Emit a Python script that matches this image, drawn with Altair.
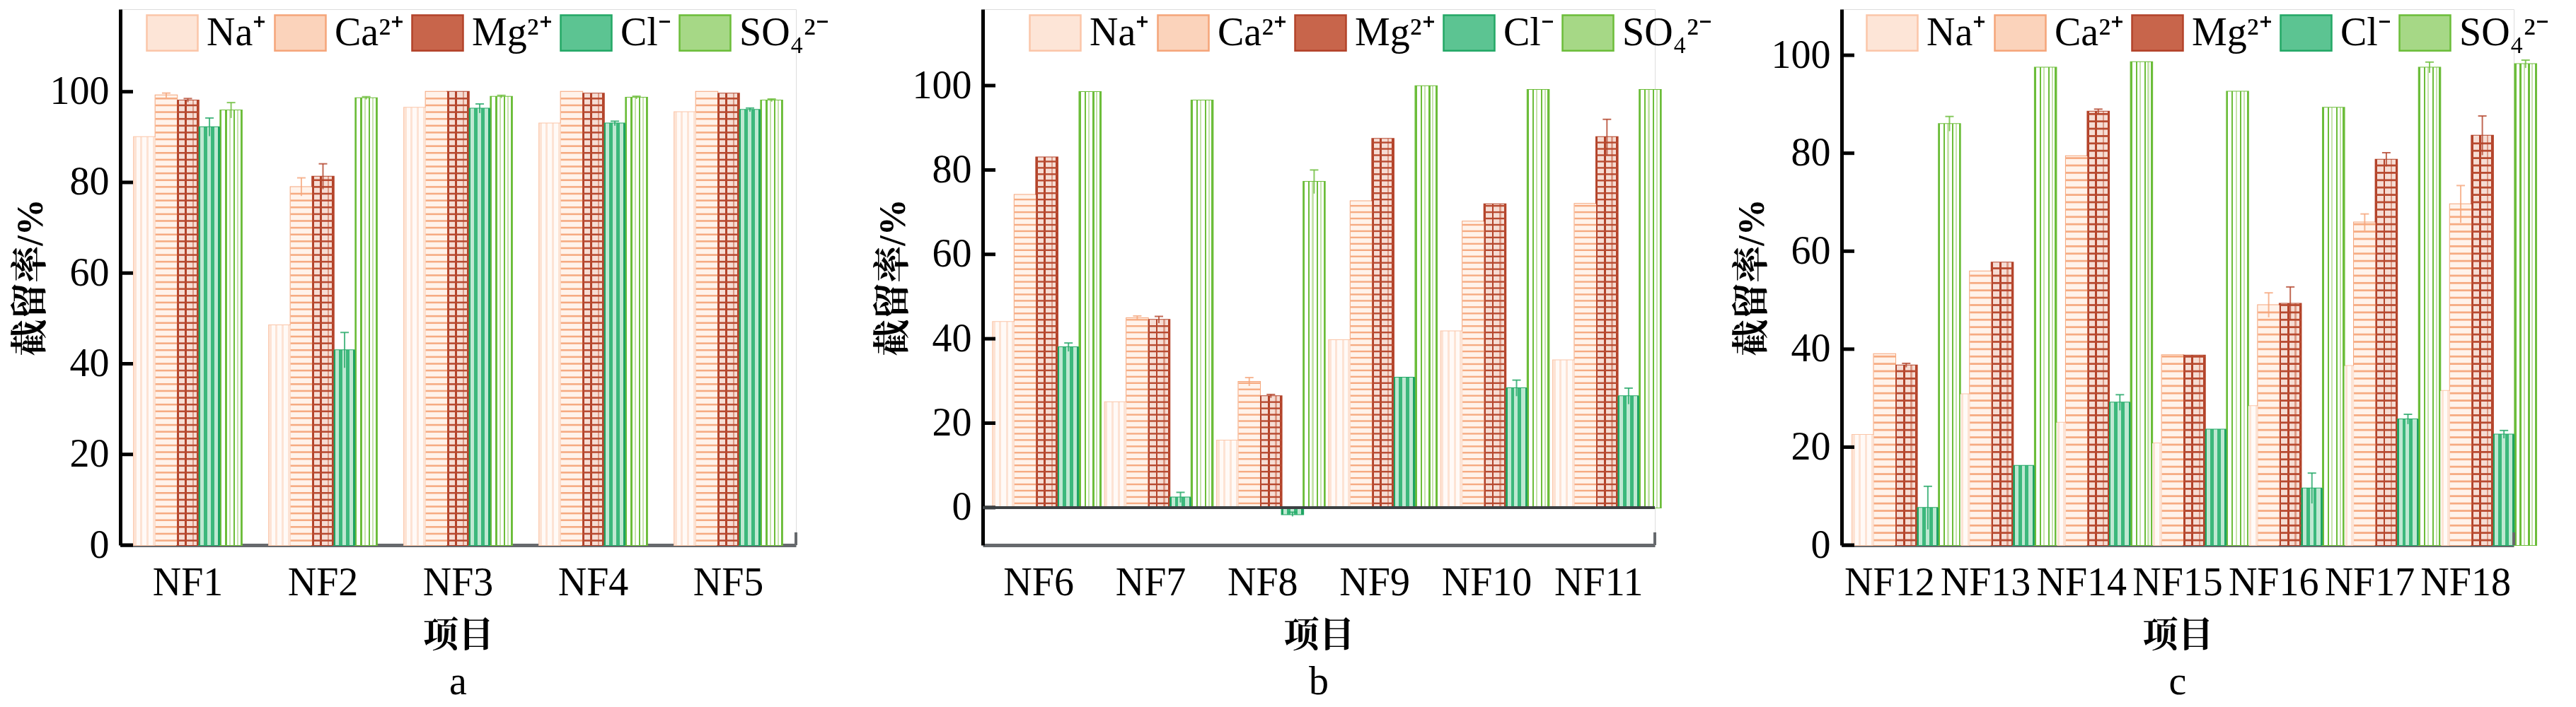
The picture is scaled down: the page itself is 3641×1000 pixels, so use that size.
import altair as alt
import pandas as pd

FONT = "Liberation Serif, Noto Serif CJK SC, Noto Sans CJK SC"

series = ["Na⁺", "Ca²⁺", "Mg²⁺", "Cl⁻", "SO₄²⁻"]

# ---- panel a ----
cats_a = ["NF1", "NF2", "NF3", "NF4", "NF5"]
na_a = [90.0, 48.5, 96.5, 93.0, 95.5]
ca_a = [99.2, 79.0, 100.0, 100.0, 100.0]
mg_a = [98.1, 81.3, 100.0, 99.6, 99.6]
cl_a = [92.2, 43.0, 96.3, 93.0, 96.0]
so4_a = [95.9, 98.6, 98.9, 98.7, 98.1]
na_a_err = [0, 0, 0, 0, 0]
ca_a_err = [0.5, 2.0, 0, 0, 0]
mg_a_err = [0.4, 2.8, 0, 0, 0]
cl_a_err = [2.0, 3.9, 1.0, 0.5, 0.4]
so4_a_err = [1.7, 0.3, 0.3, 0.3, 0.3]

# ---- panel b ----
cats_b = ["NF6", "NF7", "NF8", "NF9", "NF10", "NF11"]
na_b = [44.0, 25.0, 15.9, 39.7, 41.8, 34.9]
ca_b = [74.1, 44.9, 29.8, 72.6, 67.8, 72.0]
mg_b = [83.0, 44.5, 26.4, 87.4, 71.9, 87.8]
cl_b = [38.0, 2.4, -1.6, 30.8, 28.3, 26.4]
so4_b = [98.5, 96.5, 77.2, 99.9, 99.0, 99.0]
na_b_err = [0, 0, 0, 0, 0, 0]
ca_b_err = [0, 0.5, 1.0, 0, 0, 0]
mg_b_err = [0, 0.8, 0.4, 0, 0, 4.2]
cl_b_err = [1.0, 1.2, 0.5, 0, 1.9, 1.9]
so4_b_err = [0, 0, 2.8, 0, 0, 0]

# ---- panel c ----
cats_c = ["NF12", "NF13", "NF14", "NF15", "NF16", "NF17", "NF18"]
na_c = [22.5, 30.8, 25.0, 20.8, 28.4, 36.6, 31.5]
ca_c = [39.0, 55.9, 79.4, 38.8, 49.0, 65.9, 69.6]
mg_c = [36.7, 57.7, 88.5, 38.7, 49.3, 78.7, 83.6]
cl_c = [7.6, 16.2, 29.1, 23.6, 11.6, 25.7, 22.6]
so4_c = [86.0, 97.5, 98.6, 92.6, 89.3, 97.5, 98.2]
na_c_err = [0, 0, 0, 0, 0, 0, 0]
ca_c_err = [0, 0, 0, 0, 2.5, 1.7, 3.8]
mg_c_err = [0.4, 0, 0.5, 0, 3.4, 1.4, 4.0]
cl_c_err = [4.4, 0, 1.6, 0, 3.1, 1.0, 0.8]
so4_c_err = [1.5, 0, 0, 0, 0, 1.1, 0.8]

y_ticks = [0, 20, 40, 60, 80, 100]

# colours
legend_fill = ["#fde5d7", "#fbd3bb", "#c8654b", "#5cc492", "#a6d886"]
stroke_cols = ["#fbc6a9", "#f5a57a", "#b3432a", "#23a866", "#6cbd3a"]


def grad(stops):
    s = []
    for a, b, c in stops:
        s.append(alt.GradientStop(offset=a, color=c))
        s.append(alt.GradientStop(offset=b, color=c))
    return alt.LinearGradient(gradient="linear", x1=0, y1=0, x2=1, y2=0, stops=s)


G, LG, W = "#6cbd3a", "#c6e4ad", "#ffffff"
so4_grad = grad([(0, 0.07, G), (0.07, 0.23, W), (0.23, 0.30, G), (0.30, 0.40, W),
                 (0.40, 0.47, LG), (0.47, 0.62, W), (0.62, 0.69, G), (0.69, 0.78, W),
                 (0.78, 0.85, LG), (0.85, 0.93, W), (0.93, 1.0, G)])
R, LR, P = "#b3432a", "#dd9a86", "#f6ddd4"
mg_grad = grad([(0, 0.08, R), (0.08, 0.36, P), (0.36, 0.45, R), (0.45, 0.70, P),
                (0.70, 0.78, LR), (0.78, 0.92, P), (0.92, 1.0, R)])
CG, CL, CM = "#1fa463", "#bfe8d2", "#3cb87c"
cl_grad = grad([(0, 0.08, CG), (0.08, 0.24, CL), (0.24, 0.40, CM), (0.40, 0.56, CL),
                (0.56, 0.72, CM), (0.72, 0.90, CL), (0.90, 1.0, CG)])
NA_P, NA_W = "#fde3d4", "#fffaf7"
na_grad = grad([(0, 0.12, NA_P), (0.12, 0.3, NA_W), (0.3, 0.4, NA_P), (0.4, 0.6, NA_W),
                (0.6, 0.7, NA_P), (0.7, 0.88, NA_W), (0.88, 1.0, NA_P)])

X_AXIS = alt.Axis(
    title="项目", labelAngle=0, ticks=False, domainColor="#66696d", domainWidth=5,
    labelFont=FONT, labelFontSize=56, labelColor="black", labelPadding=26,
    titleFont=FONT, titleFontSize=50, titleFontWeight="bold", titleColor="black",
    titlePadding=22, grid=False)
Y_AXIS = alt.Axis(
    title="截留率/%", values=y_ticks, ticks=False, grid=False, domainColor="black",
    domainWidth=5, labelFont=FONT, labelFontSize=56, labelColor="black",
    labelPadding=16, titleFont=FONT, titleFontSize=52, titleFontWeight="bold",
    titleColor="black", titlePadding=0)


def make_df(cats, vals, errs):
    rows = []
    for s, v, e in zip(series, vals, errs):
        for c, vv, ee in zip(cats, v, e):
            rows.append({"cat": c, "series": s, "value": vv, "err": ee})
    return pd.DataFrame(rows)


def panel(cats, vals, errs, ydom, width, height, letter, leg_x, leg_y, pad_inner, zero_line):
    df = make_df(cats, vals, errs)
    xs = alt.Scale(domain=cats, paddingInner=pad_inner, paddingOuter=pad_inner / 2)
    xo = alt.XOffset("series:N", scale=alt.Scale(domain=series, paddingInner=0, paddingOuter=0))
    ys = alt.Scale(domain=ydom, nice=False, zero=False)
    X = alt.X("cat:N", scale=xs, sort=cats, axis=X_AXIS)

    def Y(f):
        return alt.Y(f, scale=ys, axis=Y_AXIS)

    base = alt.Chart(df)
    leg = alt.Legend(
        title=None, orient="none", legendX=leg_x, legendY=leg_y, direction="horizontal",
        symbolType="M-1,-0.7H1V0.7H-1Z", symbolSize=5184, symbolStrokeWidth=2.5,
        labelFont=FONT, labelFontSize=56, labelColor="black", labelOffset=11,
        columnPadding=6, labelLimit=300,
    )
    bars = base.mark_bar(strokeWidth=2).encode(
        x=X, xOffset=xo, y=Y("value:Q"),
        fill=alt.Fill("series:N", scale=alt.Scale(domain=series, range=legend_fill), legend=leg),
        stroke=alt.Stroke("series:N", scale=alt.Scale(domain=series, range=stroke_cols), legend=leg),
    )
    layers = [bars]

    def pat(sname, fill):
        return base.transform_filter(alt.datum.series == sname).mark_bar(
            fill=fill, strokeWidth=0).encode(x=X, xOffset=xo, y=Y("value:Q"))

    layers.append(pat(series[0], na_grad))
    layers.append(pat(series[1], "#fff3eb"))
    layers.append(pat(series[2], mg_grad))
    layers.append(pat(series[3], cl_grad))
    layers.append(pat(series[4], so4_grad))

    def stripes(sname, color):
        return base.transform_filter(alt.datum.series == sname).transform_calculate(
            s="sequence(0.8, datum.value - 0.3, 1.5)").transform_flatten(["s"]).transform_calculate(
            s2="datum.s + 0.4").mark_bar(color=color, strokeWidth=0).encode(
            x=X, xOffset=xo, y=Y("s:Q"), y2="s2:Q")

    layers.append(stripes(series[1], "#f6ab82"))
    layers.append(stripes(series[2], "#b84a30"))

    eb = base.transform_filter(alt.datum.err > 0).transform_calculate(
        lo="datum.value - datum.err", hi="datum.value + datum.err")
    layers.append(eb.mark_rule(strokeWidth=2, opacity=0.8).encode(
        x=X, xOffset=xo, y=Y("lo:Q"), y2="hi:Q",
        stroke=alt.Stroke("series:N", scale=alt.Scale(domain=series, range=stroke_cols), legend=None)))
    layers.append(eb.mark_tick(size=12, thickness=2, opacity=0.8).encode(
        x=X, xOffset=xo, y=Y("hi:Q"),
        color=alt.Color("series:N", scale=alt.Scale(domain=series, range=stroke_cols), legend=None)))

    tdf = pd.DataFrame({"t": y_ticks})
    layers.append(alt.Chart(tdf).mark_rule(color="black", strokeWidth=5).encode(
        y=Y("t:Q"), x=alt.value(0), x2=alt.value(18)))
    if zero_line:
        layers.append(alt.Chart(pd.DataFrame({"z": [0]})).mark_rule(color="#3c4043", strokeWidth=4).encode(
            y=Y("z:Q"), x=alt.value(0), x2=alt.value(width)))
    layers.append(alt.Chart(pd.DataFrame({"z": [0]})).mark_rule(color="#66696d", strokeWidth=4).encode(
        x=alt.value(width), y=alt.value(height - 18), y2=alt.value(height)))

    return alt.layer(*layers).properties(
        width=width, height=height,
        title=alt.TitleParams(letter, orient="bottom", font=FONT, fontSize=56,
                              fontWeight="normal", color="black", offset=14),
    )


pa = panel(cats_a, [na_a, ca_a, mg_a, cl_a, so4_a],
           [na_a_err, ca_a_err, mg_a_err, cl_a_err, so4_a_err],
           [0, 118.2], 955, 758, "a", 36, -4, 0.2, False)
pb = panel(cats_b, [na_b, ca_b, mg_b, cl_b, so4_b],
           [na_b_err, ca_b_err, mg_b_err, cl_b_err, so4_b_err],
           [-8.9, 118.1], 950, 758, "b", 65, -4, 0.18, True)
pc = panel(cats_c, [na_c, ca_c, mg_c, cl_c, so4_c],
           [na_c_err, ca_c_err, mg_c_err, cl_c_err, so4_c_err],
           [0, 109.4], 950, 758, "c", 34, -4, 0.22, False)

chart = alt.hconcat(pa, pb, pc, spacing=264, bounds="flush").resolve_scale(
    fill="independent", stroke="independent", color="independent").properties(
    padding={"left": 8, "top": 0, "right": 0, "bottom": 0}
).configure_view(stroke=None, strokeWidth=0).configure(font=FONT)

chart.save("out.html", embed_options={"renderer": "svg", "actions": False})
